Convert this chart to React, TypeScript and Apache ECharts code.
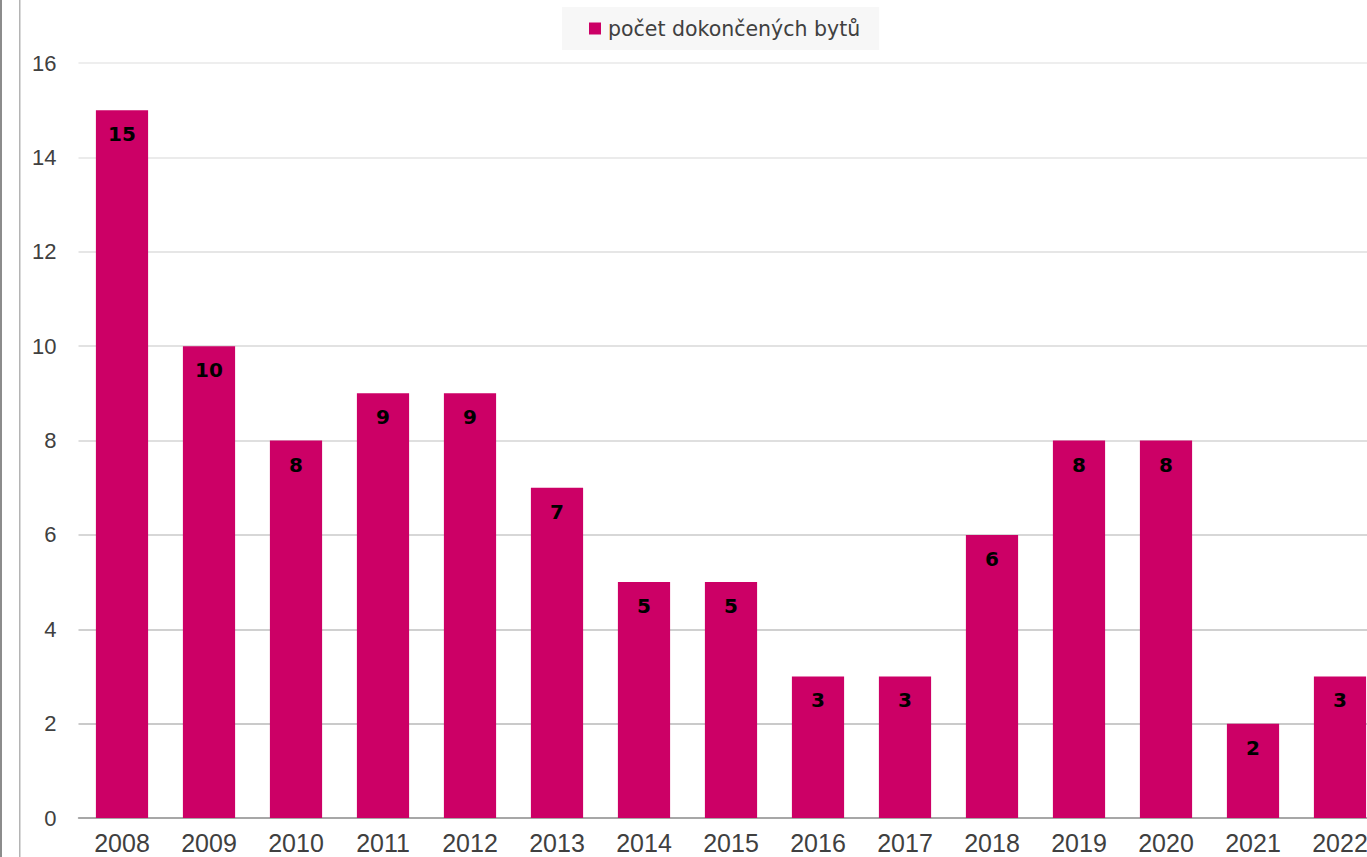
import React, { useEffect, useRef } from "react";
import * as echarts from "echarts";

const categories = ["2008", "2009", "2010", "2011", "2012", "2013", "2014", "2015", "2016", "2017", "2018", "2019", "2020", "2021", "2022"];
const values = [15, 10, 8, 9, 9, 7, 5, 5, 3, 3, 6, 8, 8, 2, 3];
const seriesName = "počet dokončených bytů";
const gridColors = ["#a6a6a6", "#b8b8b8", "#c0c0c0", "#cacaca", "#d4d4d4", "#d9d9d9", "#dedede", "#e4e4e4", "#e8e8e8"];
const FONT = "DejaVu Sans, Verdana, sans-serif";
const ARIAL = "Liberation Sans, Arial, sans-serif";

export default function App() {
  const ref = useRef<HTMLDivElement>(null);
  useEffect(() => {
    if (!ref.current) return;
    const chart = echarts.init(ref.current, undefined, { renderer: "svg" });
    chart.setOption({
      animation: false,
      backgroundColor: "#ffffff",
      textStyle: { fontFamily: FONT },
      graphic: [
        { type: "rect", left: 0, top: 0, shape: { x: 0, y: 0, width: 2, height: 857 }, style: { fill: "#8c8c8c" } },
        { type: "rect", left: 19, top: 0, shape: { x: 0, y: 0, width: 1.5, height: 857 }, style: { fill: "#b4b4b4" } },
      ],
      legend: {
        left: 562,
        top: 7,
        padding: [11, 19, 11, 27],
        backgroundColor: "#f7f7f7",
        itemWidth: 12,
        itemHeight: 12,
        icon: "rect",
        itemGap: 6,
        textStyle: { fontSize: 20.5, color: "#404040", fontFamily: FONT, padding: [0, 0, 0, 2] },
        data: [seriesName],
      },
      grid: { left: 78.5, right: 16.5, top: 63, bottom: 39, containLabel: false },
      xAxis: {
        type: "category",
        data: categories,
        axisTick: { show: false },
        axisLine: { lineStyle: { color: "#a0a0a0", width: 1.5 } },
        axisLabel: { fontSize: 25, color: "#404040", margin: 12, fontFamily: ARIAL },
      },
      yAxis: {
        type: "value",
        min: 0,
        max: 16,
        interval: 2,
        axisLine: { show: false },
        axisTick: { show: false },
        axisLabel: { fontSize: 22, color: "#404040", margin: 22, fontFamily: ARIAL },
        splitLine: { lineStyle: { color: gridColors, width: 1.5 } },
      },
      series: [
        {
          name: seriesName,
          type: "bar",
          data: values,
          barCategoryGap: "40%",
          itemStyle: { color: "#cc0066" },
          label: {
            show: true,
            position: "insideTop",
            distance: 14,
            fontSize: 20,
            fontWeight: "bold",
            color: "#000000",
            fontFamily: FONT,
          },
        },
      ],
    });
    return () => chart.dispose();
  }, []);
  return (
    <div style={{ position: "fixed", left: 0, top: 0, width: 1367, height: 857, overflow: "hidden", background: "#fff" }}>
      <div ref={ref} style={{ width: 1400, height: 857 }} />
    </div>
  );
}
